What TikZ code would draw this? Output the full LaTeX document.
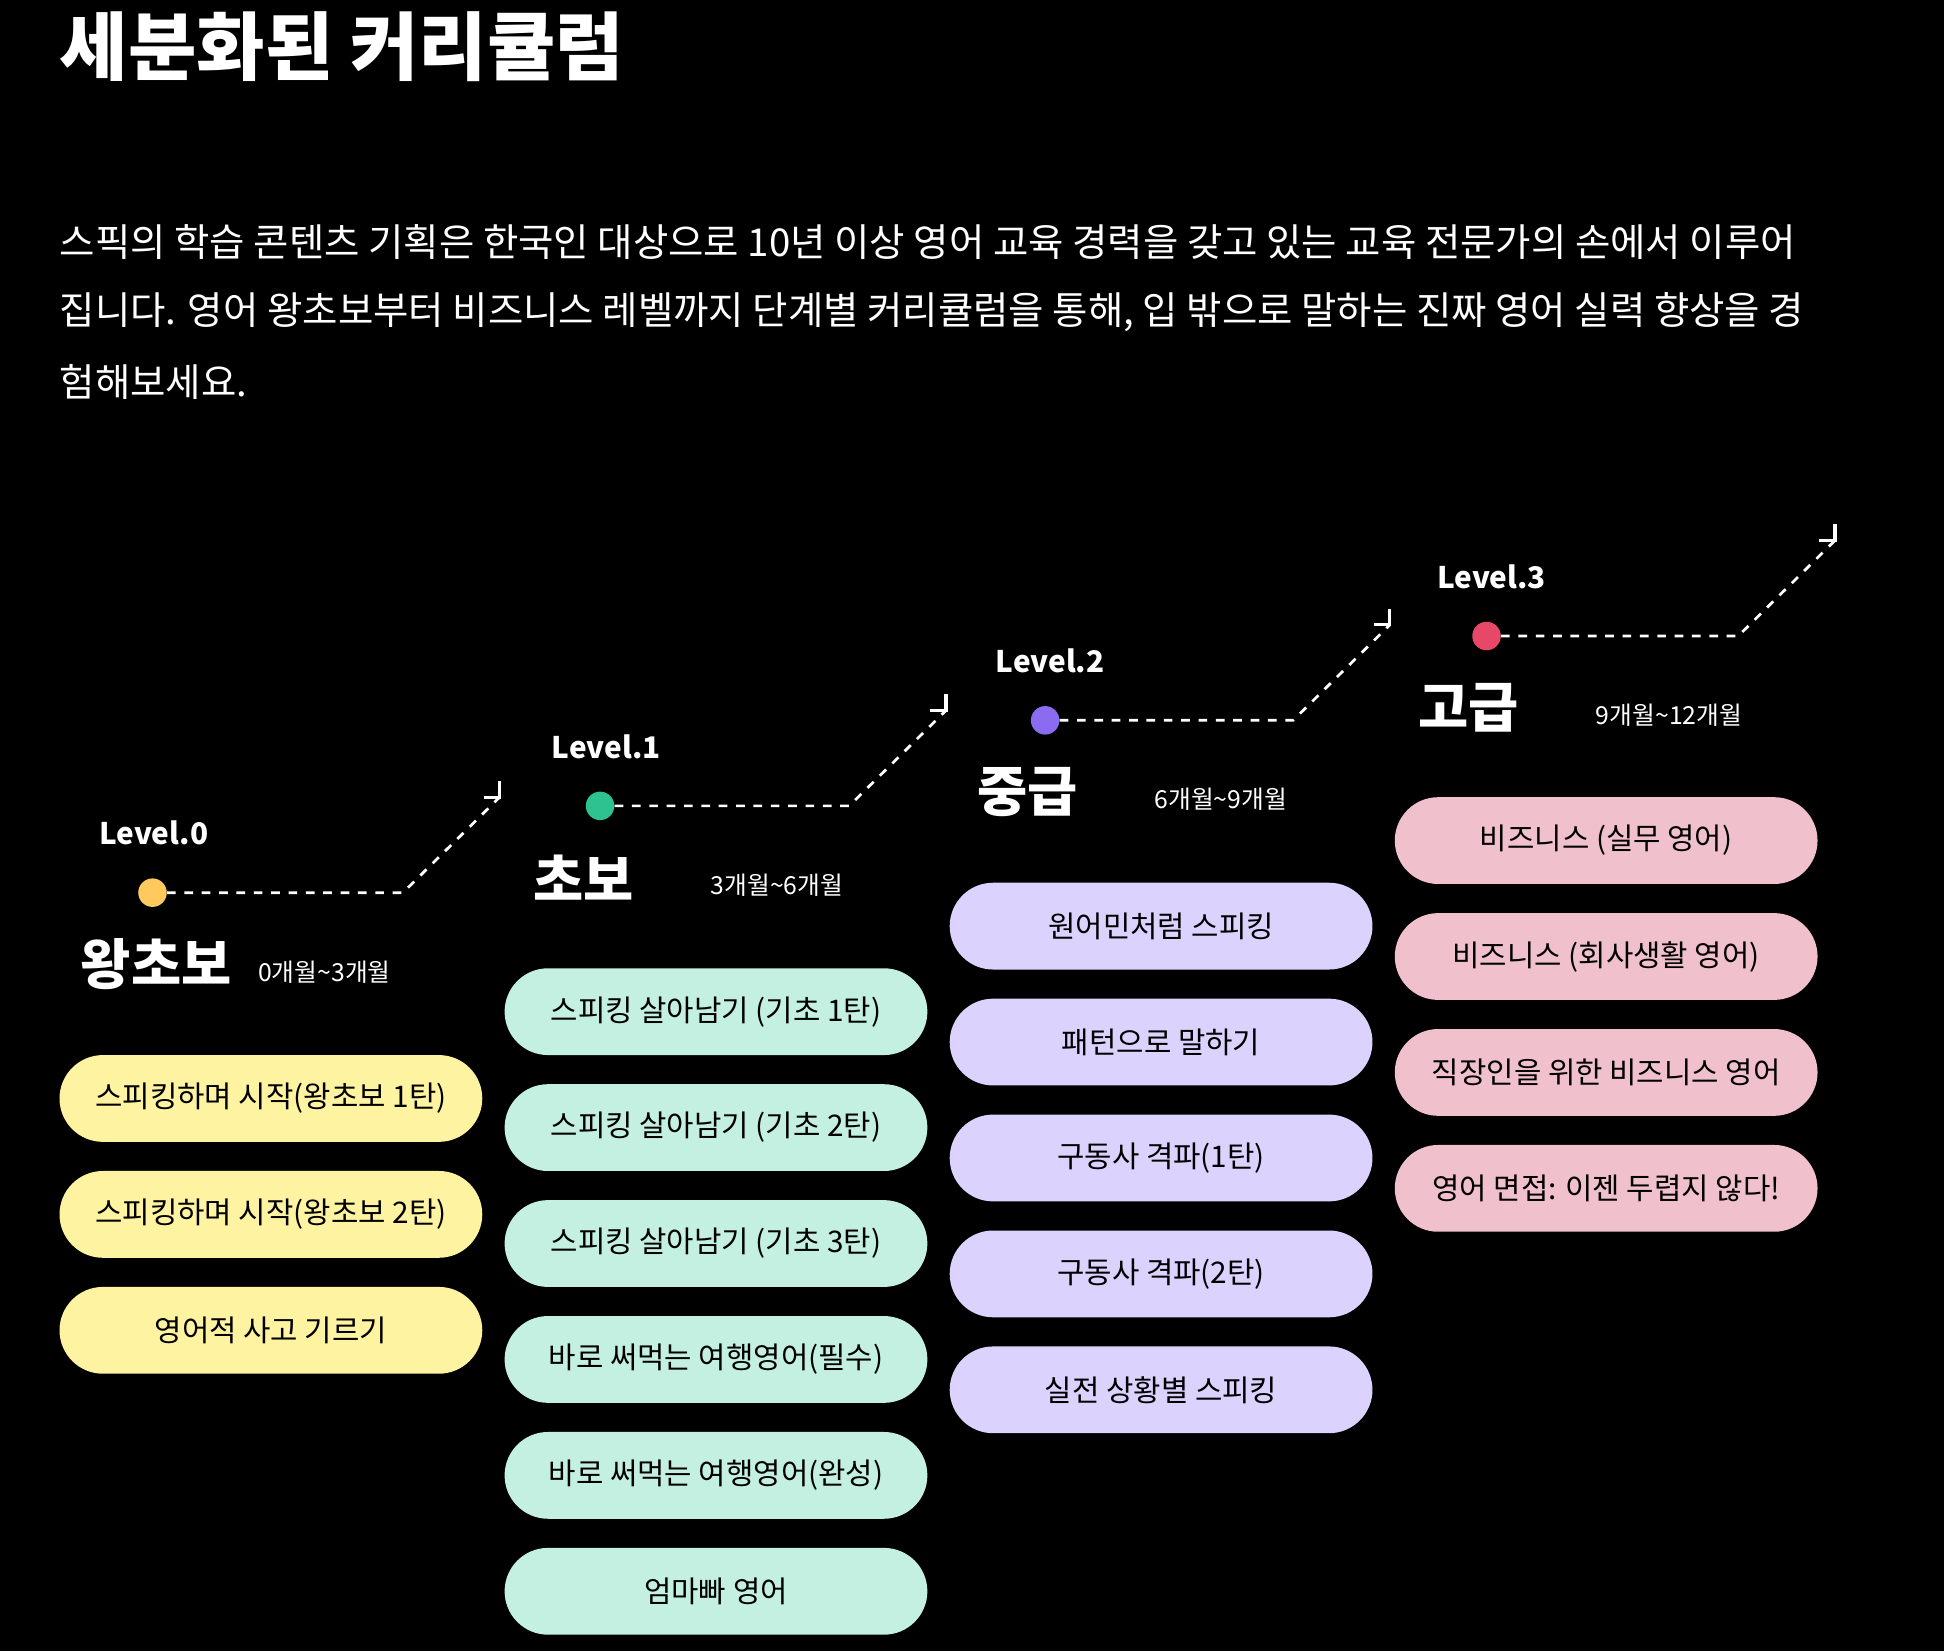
\documentclass[tikz,border=0pt]{standalone}
\usepackage{fontspec}
\setmainfont{Noto Sans CJK KR}
\setsansfont{Noto Sans CJK KR}
\definecolor{yel}{HTML}{FEF3A0}
\definecolor{grn}{HTML}{C3F0E0}
\definecolor{pur}{HTML}{DCD2FE}
\definecolor{pnk}{HTML}{F0C0CC}
\definecolor{dyel}{HTML}{FFC95E}
\definecolor{dgrn}{HTML}{2DC28F}
\definecolor{dpur}{HTML}{8B6CF0}
\definecolor{dred}{HTML}{E84868}
\tikzset{
 pill/.style={fill=#1,rounded corners=35pt,minimum width=341pt,minimum height=70pt,inner sep=0pt,text=black,font=\fontsize{24}{28}\selectfont},
 lvl/.style={anchor=west,text=white,font=\bfseries\fontsize{24}{28}\selectfont,inner sep=0pt},
 big/.style={anchor=west,text=white,font=\bfseries\fontsize{44}{50}\selectfont,inner sep=0pt},
 dur/.style={anchor=west,text=white,font=\fontsize{20}{24}\selectfont,inner sep=0pt},
 para/.style={anchor=west,text=white,font=\fontsize{31}{36}\selectfont,inner sep=0pt},
 dashline/.style={white,line width=2.2pt,dash pattern=on 7pt off 7pt},
 tipl/.style={white,line width=2.6pt},
}
\begin{document}
\begin{tikzpicture}[x=1pt,y=-1pt]
\fill[black] (0,0) rectangle (1568,1332);
\useasboundingbox (0,0) rectangle (1568,1332);
\node[anchor=west,text=white,font=\bfseries\fontsize{60}{66}\selectfont,inner sep=0pt] (title) at (48,38) {세분화된 커리큘럼};
\node[para] (p1) at (48,195) {스픽의 학습 콘텐츠 기획은 한국인 대상으로 10년 이상 영어 교육 경력을 갖고 있는 교육 전문가의 손에서 이루어};
\node[para] (p2) at (48,252) {집니다. 영어 왕초보부터 비즈니스 레벨까지 단계별 커리큘럼을 통해, 입 밖으로 말하는 진짜 영어 실력 향상을 경};
\node[para] (p3) at (48,308) {험해보세요.};
\foreach \n/\lx/\dx/\dy/\ex/\col/\lab/\big/\dur in {
 a/80/123/720/325/dyel/Level.0/왕초보/0개월\textasciitilde 3개월,
 b/445/484/650/685/dgrn/Level.1/초보/3개월\textasciitilde 6개월,
 c/803/843/581/1043/dpur/Level.2/중급/6개월\textasciitilde 9개월,
 d/1159/1199/513/1402/dred/Level.3/고급/9개월\textasciitilde 12개월}{
  \node[lvl] (lv\n) at (\lx,\dy-48) {\lab};
  \node[circle,fill=\col,minimum size=23pt,inner sep=0pt] (dot\n) at (\dx,\dy) {};
  \coordinate (k\n) at (\ex,\dy);
  \coordinate (t\n) at (\ex+78,\dy-77);
  \draw[dashline] (dot\n.east) -- (k\n) -- (t\n);
  \draw[tipl] ([xshift=-13pt]t\n) -- (t\n) -- ([yshift=13pt]t\n);
  \node[big] (bg\n) at (\lx-15,\dy+58) {\big};
  \node[dur] (du\n) at (\lx+128,\dy+64) {\dur};
}
\foreach \t [count=\i] in {스피킹하며 시작(왕초보 1탄),스피킹하며 시작(왕초보 2탄),영어적 사고 기르기}
  \node[pill=yel] (ya\i) at (218.5,886+93.5*\i-93.5) {\t};
\foreach \t [count=\i] in {스피킹 살아남기 (기초 1탄),스피킹 살아남기 (기초 2탄),스피킹 살아남기 (기초 3탄),바로 써먹는 여행영어(필수),바로 써먹는 여행영어(완성),엄마빠 영어}
  \node[pill=grn] (gb\i) at (577.5,816+93.5*\i-93.5) {\t};
\foreach \t [count=\i] in {원어민처럼 스피킹,패턴으로 말하기,구동사 격파(1탄),구동사 격파(2탄),실전 상황별 스피킹}
  \node[pill=pur] (pc\i) at (936.5,747+93.5*\i-93.5) {\t};
\foreach \t [count=\i] in {비즈니스 (실무 영어),비즈니스 (회사생활 영어),직장인을 위한 비즈니스 영어,영어 면접: 이젠 두렵지 않다!}
  \node[pill=pnk] (rd\i) at (1295.5,678+93.5*\i-93.5) {\t};
\end{tikzpicture}
\end{document}
